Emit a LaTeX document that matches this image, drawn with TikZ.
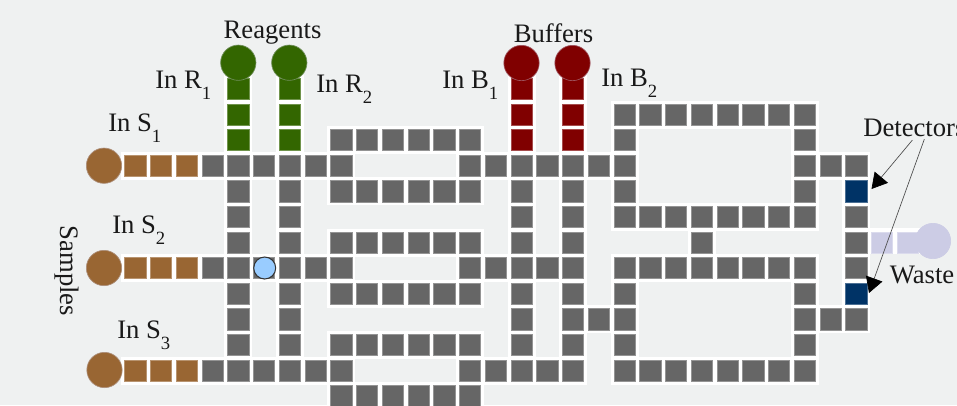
\documentclass[tikz,border=0pt]{standalone}
\usepackage{fontspec}
\setmainfont{Liberation Serif}
\usetikzlibrary{arrows.meta}
\definecolor{bgc}{HTML}{EFF1F1}
\definecolor{grayc}{HTML}{666666}
\definecolor{brownc}{HTML}{996633}
\definecolor{greenc}{HTML}{336600}
\definecolor{redc}{HTML}{800000}
\definecolor{bluec}{HTML}{003366}
\definecolor{lavc}{HTML}{CCCCE5}
\definecolor{valvec}{HTML}{99CCFF}
\newcommand{\cellx}[1]{(135.3+25.75*#1)}
\newcommand{\celly}[1]{(165.7+25.6*#1)}
\newcommand{\subs}[1]{\raisebox{-.42em}{\fontsize{14}{14}\selectfont #1}}
\tikzset{
  cell/.style={minimum size=15.8pt,inner sep=0pt,outer sep=0pt,draw=#1!70!white,line width=.5pt,fill=#1},
  port/.style={circle,minimum size=26.5pt,inner sep=0pt,fill=#1,draw=#1!60!lavc,line width=.5pt},
  lbl/.style={font=\fontsize{20}{22}\selectfont,inner sep=0pt,text=black!90},
  callout/.style={draw=black!70,line width=.5pt,-{Triangle[length=11.5pt,width=13pt,color=black,fill=black]}},
}
\newcommand{\under}[2]{\fill[white] ({\cellx{#1}-14},{\celly{#2}-14}) rectangle ({\cellx{#1}+14},{\celly{#2}+14});}
\newcommand{\cellat}[3]{\node[cell=#3] (c#1x#2) at ({\cellx{#1}},{\celly{#2}}) {};}
\def\grayset{3/0,4/0,5/0,6/0,7/0,8/0,13/0,14/0,15/0,16/0,17/0,18/0,19/0,
4/1,4/2,4/3,6/1,6/2,6/3,3/4,4/4,5/4,6/4,7/4,8/4,4/5,4/6,4/7,6/5,6/6,6/7,
3/8,4/8,5/8,6/8,7/8,8/8,
8/-1,9/-1,10/-1,11/-1,12/-1,13/-1,8/1,9/1,10/1,11/1,12/1,13/1,
8/3,9/3,10/3,11/3,12/3,13/3,8/5,9/5,10/5,11/5,12/5,13/5,
8/7,9/7,10/7,11/7,12/7,13/7,8/9,9/9,10/9,11/9,12/9,13/9,
13/4,14/4,15/4,16/4,17/4,13/8,14/8,15/8,16/8,17/8,
15/1,15/2,15/3,15/5,15/6,15/7,17/1,17/2,17/3,17/5,17/6,17/7,18/6,
19/-2,20/-2,21/-2,22/-2,23/-2,24/-2,25/-2,26/-2,19/-1,19/1,
19/2,20/2,21/2,22/2,23/2,24/2,25/2,26/2,22/3,
19/4,20/4,21/4,22/4,23/4,24/4,25/4,26/4,19/5,19/6,19/7,
19/8,20/8,21/8,22/8,23/8,24/8,25/8,26/8,
26/-1,26/0,26/1,26/5,26/6,26/7,27/0,27/6,28/0,28/2,28/3,28/4,28/6}
\def\brownset{0/0,1/0,2/0,0/4,1/4,2/4,0/8,1/8,2/8}
\def\greenset{4/-1,4/-2,4/-3,6/-1,6/-2,6/-3}
\def\redset{15/-1,15/-2,15/-3,17/-1,17/-2,17/-3}
\def\blueset{28/1,28/5}
\def\lavset{29/3,30/3}
\begin{document}
\begin{tikzpicture}[x=.75pt,y=-.75pt]
\useasboundingbox (0,0) rectangle (957,405);
\clip (0,0) rectangle (957,405);
\fill[bgc] (0,0) rectangle (957,405);
\foreach \c/\r in \grayset {\under{\c}{\r}}
\foreach \c/\r in \brownset {\under{\c}{\r}}
\foreach \c/\r in \greenset {\under{\c}{\r}}
\foreach \c/\r in \redset {\under{\c}{\r}}
\foreach \c/\r in \blueset {\under{\c}{\r}}
\fill[white] (868,228) rectangle (925,254);
\foreach \c/\r in \grayset {\cellat{\c}{\r}{grayc}}
\foreach \c/\r in \brownset {\cellat{\c}{\r}{brownc}}
\foreach \c/\r in \greenset {\cellat{\c}{\r}{greenc}}
\foreach \c/\r in \redset {\cellat{\c}{\r}{redc}}
\foreach \c/\r in \blueset {\cellat{\c}{\r}{bluec}}
\foreach \c/\r in \lavset {\cellat{\c}{\r}{lavc}}
\node[port=brownc] (s1) at (104,165.7) {};
\node[port=brownc] (s2) at (104,268) {};
\node[port=brownc] (s3) at (104.5,370) {};
\node[port=greenc] (r1) at (238.3,62.7) {};
\node[port=greenc] (r2) at (289.3,62.7) {};
\node[port=redc] (b1) at (521.5,63) {};
\node[port=redc] (b2) at (572.5,63) {};
\node[port=lavc] (w) at (933,241) {};
\node[circle,minimum size=16.5pt,inner sep=0pt,fill=valvec,draw=black!80,line width=.8pt] (valve) at (264.7,268) {};
\node[lbl] (reagents) at (272.5,33) {Reagents};
\node[lbl] (buffers) at (553.5,33) {Buffers};
\node[lbl,anchor=base west] (inr1) at (155,88) {In R\subs{1}};
\node[lbl,anchor=base west] (inr2) at (316,92) {In R\subs{2}};
\node[lbl,anchor=base west] (inb1) at (442,88) {In B\subs{1}};
\node[lbl,anchor=base west] (inb2) at (601,86) {In B\subs{2}};
\node[lbl,anchor=base west] (ins1) at (108,131) {In S\subs{1}};
\node[lbl,anchor=base west] (ins2) at (112,233) {In S\subs{2}};
\node[lbl,anchor=base west] (ins3) at (117,338) {In S\subs{3}};
\node[lbl,rotate=-90] (samples) at (66.5,271) {Samples};
\node[lbl,anchor=west] (detectors) at (863,128) {Detectors};
\node[lbl,anchor=west] (waste) at (889.5,275) {Waste};
\coordinate (d1) at (871.5,189);
\coordinate (d2) at (869,293);
\draw[callout] (detectors.south) ++(-2,3) -- (d1);
\draw[callout] (detectors.south) ++(10,2) -- (d2);
\end{tikzpicture}
\end{document}
